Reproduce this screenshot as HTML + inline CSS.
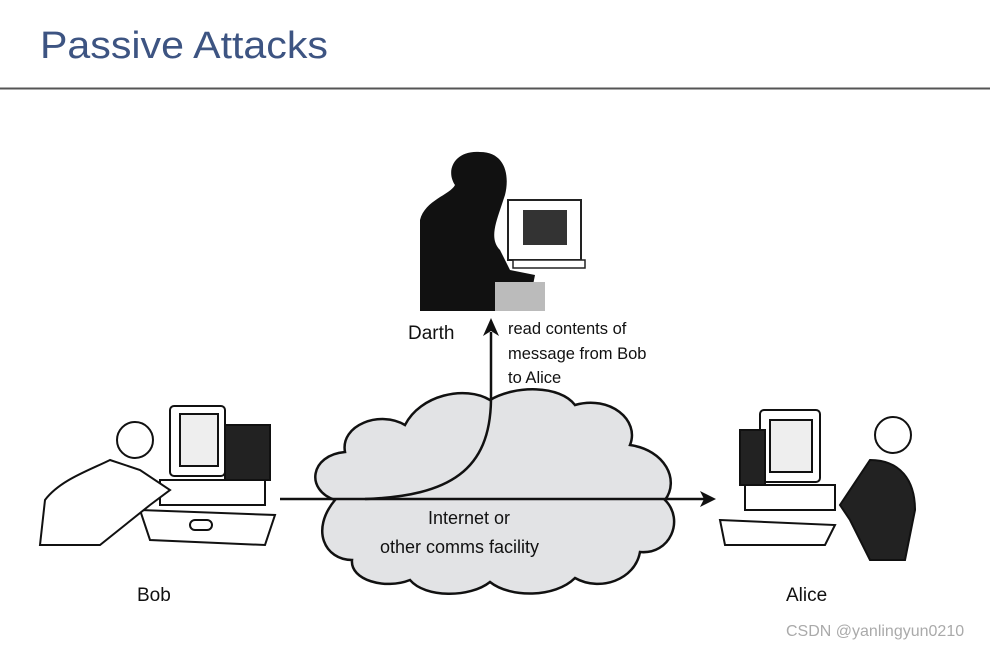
<!DOCTYPE html>
<html><head><style>
body{margin:0;width:990px;height:648px;background:#fff;overflow:hidden;font-family:"Liberation Sans",sans-serif}
</style></head><body>
<svg width="990" height="648" viewBox="0 0 990 648" xmlns="http://www.w3.org/2000/svg">
<text x="40" y="58" font-family="Liberation Sans,sans-serif" font-size="38" fill="#3d5482" textLength="288" lengthAdjust="spacingAndGlyphs">Passive Attacks</text>
<line x1="0" y1="88.5" x2="990" y2="88.5" stroke="#555" stroke-width="2"/>

<!-- cloud -->
<path d="M335,500 C305,490 310,455 345,452 C340,425 380,410 405,425 C420,395 465,385 490,400 C515,385 560,385 575,405 C610,395 640,420 630,445 C665,450 680,480 665,500 C685,520 670,555 640,552 C635,580 600,592 575,578 C555,598 510,598 490,582 C470,598 425,598 410,580 C385,590 350,580 352,560 C325,560 310,530 335,500 Z" fill="#e2e3e5" stroke="#111" stroke-width="2.5"/>

<!-- arrows -->
<line x1="280" y1="499" x2="704" y2="499" stroke="#111" stroke-width="2.5"/>
<path d="M716,499 L700,491 L704,499 L700,507 Z" fill="#111"/>
<path d="M365,499 C450,496 490,470 491,400 L491,332" fill="none" stroke="#111" stroke-width="2.5"/>
<path d="M491,318 L483,336 L491,331 L499,336 Z" fill="#111"/>

<g font-family="Liberation Sans,sans-serif" fill="#111">
<text x="408" y="339" font-size="19">Darth</text>
<text x="508" y="334" font-size="16.5">read contents of</text>
<text x="508" y="359" font-size="16.5">message from Bob</text>
<text x="508" y="383" font-size="16.5">to Alice</text>
<text x="428" y="524" font-size="18">Internet or</text>
<text x="380" y="553" font-size="18">other comms facility</text>
<text x="137" y="601" font-size="19">Bob</text>
<text x="786" y="601" font-size="19">Alice</text>
</g>

<!-- Darth -->
<path d="M420,311 L420,220 C425,200 450,195 455,185 C445,170 455,150 480,152 C505,152 510,175 505,195 L500,210 C495,225 490,240 500,250 L510,270 L535,275 L530,300 L545,300 L545,311 Z" fill="#111"/>
<rect x="495" y="282" width="50" height="29" fill="#bbb"/>
<rect x="508" y="200" width="73" height="60" fill="#fff" stroke="#222" stroke-width="2"/>
<rect x="523" y="210" width="44" height="35" fill="#333"/>
<rect x="513" y="260" width="72" height="8" fill="#fff" stroke="#222" stroke-width="1.5"/>

<!-- Bob -->
<g stroke="#111" stroke-width="2" fill="#fff">
<rect x="170" y="406" width="55" height="70" rx="4"/>
<rect x="180" y="414" width="38" height="52" fill="#eee"/>
<rect x="225" y="425" width="45" height="55" fill="#222"/>
<rect x="160" y="480" width="105" height="25"/>
<path d="M140,510 L275,515 L265,545 L150,540 Z"/>
<circle cx="135" cy="440" r="18"/>
<path d="M110,460 C90,470 60,480 45,500 L40,545 L100,545 L150,505 L170,490 L140,470 Z"/>
<rect x="190" y="520" width="22" height="10" rx="5"/>
</g>

<!-- Alice -->
<g stroke="#111" stroke-width="2" fill="#fff">
<rect x="760" y="410" width="60" height="72" rx="4"/>
<rect x="770" y="420" width="42" height="52" fill="#eee"/>
<rect x="740" y="430" width="25" height="55" fill="#222"/>
<rect x="745" y="485" width="90" height="25"/>
<path d="M720,520 L835,525 L825,545 L725,545 Z"/>
<circle cx="893" cy="435" r="18"/>
<path d="M870,460 C900,460 915,480 915,510 L905,560 L870,560 L850,520 L840,505 Z" fill="#222"/>
</g>

<text x="786" y="636" font-family="Liberation Sans,sans-serif" font-size="16" fill="#aaa">CSDN @yanlingyun0210</text>
</svg>
</body></html>
